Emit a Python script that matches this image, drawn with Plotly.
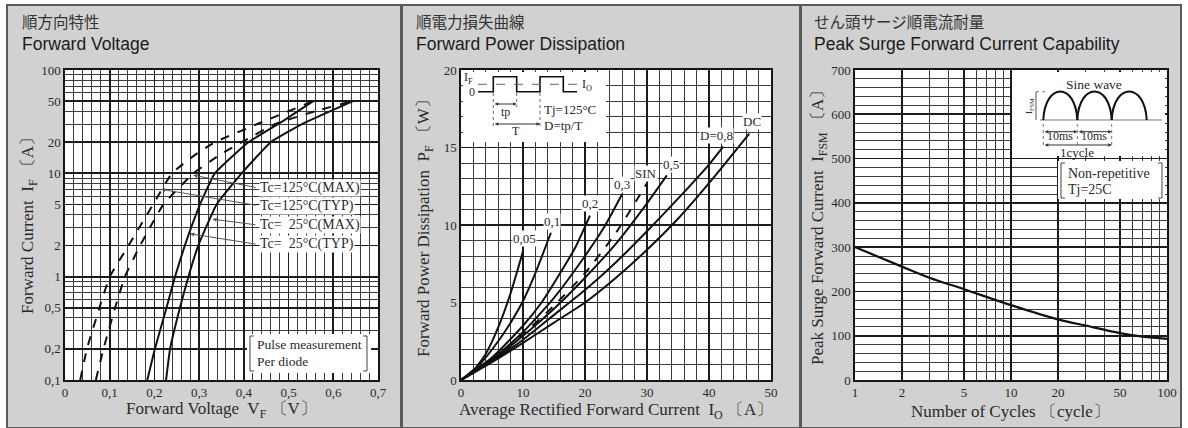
import math
import plotly.graph_objects as go

W, H = 1188, 428

# ---------------- data: panel 1 (Forward Voltage) ----------------
vf_125_typ = [0.034, 0.049, 0.077, 0.100, 0.142, 0.197, 0.239, 0.290, 0.335, 0.430, 0.555]
if_125_typ = [0.1, 0.2, 0.5, 1, 2, 5, 10, 15, 20, 30, 50]
vf_125_max = [0.069, 0.086, 0.112, 0.134, 0.168, 0.220, 0.287, 0.345, 0.395, 0.470, 0.560, 0.644]
if_125_max = [0.1, 0.2, 0.5, 1, 2, 5, 10, 15, 20, 30, 40, 50]
vf_25_typ = [0.184, 0.201, 0.227, 0.246, 0.268, 0.302, 0.335, 0.410, 0.487, 0.555]
if_25_typ = [0.1, 0.2, 0.5, 1, 2, 5, 10, 20, 32, 50]
vf_25_max = [0.226, 0.235, 0.257, 0.276, 0.298, 0.339, 0.395, 0.460, 0.530, 0.644]
if_25_max = [0.1, 0.2, 0.5, 1, 2, 5, 10, 20, 30, 50]
p1_xticks = [0, 0.1, 0.2, 0.3, 0.4, 0.5, 0.6, 0.7]
p1_xtext = ["0", "0,1", "0,2", "0,3", "0,4", "0,5", "0,6", "0,7"]
p1_yticks = [0.1, 0.2, 0.5, 1, 2, 5, 10, 20, 50, 100]
p1_ytext = ["0,1", "0,2", "0,5", "1", "2", "5", "10", "20", "50", "100"]
p1_labels = ["Tc=125°C(MAX)", "Tc=125°C(TYP)", "Tc=  25°C(MAX)", "Tc=  25°C(TYP)"]

# ---------------- data: panel 2 (Forward Power Dissipation) ----------------
io_005 = [0, 2, 4, 6, 8, 10]
pf_005 = [0, 0.6, 1.7, 3.4, 5.6, 8.3]
io_01 = [0, 3, 6, 8, 10, 12, 14.5]
pf_01 = [0, 1.0, 2.5, 3.7, 5.1, 6.9, 9.5]
io_02 = [0, 5, 10, 13, 16, 18.5, 20.8]
pf_02 = [0, 1.45, 3.5, 5.0, 6.9, 8.6, 10.6]
io_03 = [0, 5, 10, 15, 20, 23, 26]
pf_03 = [0, 1.35, 3.1, 5.3, 8.0, 9.8, 12.0]
io_sin = [0, 5, 10, 15, 20, 25, 30]
pf_sin = [0, 1.3, 2.95, 4.8, 6.9, 9.5, 12.7]
io_05 = [0, 5, 10, 15, 20, 25, 30, 33.2]
pf_05 = [0, 1.25, 2.85, 4.6, 6.6, 8.8, 11.4, 13.2]
io_08 = [0, 5, 10, 15, 20, 25, 30, 35, 40, 42.3]
pf_08 = [0, 1.2, 2.6, 4.2, 5.8, 7.6, 9.6, 11.7, 13.9, 15.05]
io_dc = [0, 5, 10, 15, 20, 25, 30, 35, 40, 46.5]
pf_dc = [0, 1.15, 2.4, 3.7, 5.0, 6.6, 8.4, 10.4, 12.7, 15.9]
p2_labels = ["0,05", "0,1", "0,2", "0,3", "SIN", "0,5", "D=0,8", "DC"]
p2_label_x = [10.3, 14.6, 20.8, 25.9, 29.9, 33.8, 41.2, 46.9]
p2_label_y = [9.1, 10.2, 11.4, 12.6, 13.3, 13.9, 15.8, 16.7]

# ---------------- data: panel 3 (Peak Surge Forward Current) ----------------
cycles = [1, 2, 3, 5, 10, 20, 30, 50, 70, 100]
ifsm = [300, 256, 231, 205, 169, 137, 123, 106, 98, 93]
p3_xticks = [1, 2, 5, 10, 20, 50, 100]

SERIF = "Liberation Serif, Times New Roman, serif"
SANS = "Liberation Sans, Arial, sans-serif"
JP = "Noto Sans CJK JP, sans-serif"
TXT = "#2a2a2a"
GMAJ = "#1c1c1c"
GMIN = "#3c3c3c"


def px(x):
    return x / W


def py(y):
    return 1 - y / H


fig = go.Figure()

LINE = dict(color="#111", width=2)
DASH = dict(color="#111", width=2, dash="dash")

for xv, yv, ln in [(vf_125_typ, if_125_typ, DASH), (vf_125_max, if_125_max, DASH),
                   (vf_25_typ, if_25_typ, LINE), (vf_25_max, if_25_max, LINE)]:
    fig.add_trace(go.Scatter(x=xv, y=yv, mode="lines", line=dict(**ln, shape="spline", smoothing=0.35),
                             xaxis="x", yaxis="y", showlegend=False, hoverinfo="skip"))

for xv, yv, ln in [(io_005, pf_005, LINE), (io_01, pf_01, LINE), (io_02, pf_02, LINE),
                   (io_03, pf_03, LINE), (io_sin, pf_sin, DASH), (io_05, pf_05, LINE),
                   (io_08, pf_08, LINE), (io_dc, pf_dc, LINE)]:
    fig.add_trace(go.Scatter(x=xv, y=yv, mode="lines", line=dict(**ln, shape="spline", smoothing=0.6),
                             xaxis="x2", yaxis="y2", showlegend=False, hoverinfo="skip"))

fig.add_trace(go.Scatter(x=cycles, y=ifsm, mode="lines", line=dict(color="#111", width=2.2, shape="spline"),
                         xaxis="x3", yaxis="y3", showlegend=False, hoverinfo="skip"))

ydom = [py(380), py(70)]


def ax_common():
    return dict(showline=True, linecolor="#151515", linewidth=1.6, mirror=True, ticks="",
                zeroline=False, showgrid=True, gridcolor=GMAJ, gridwidth=1.8, automargin=False,
                tickfont=dict(family=SERIF, size=13, color=TXT), fixedrange=True)


log_minor_p1 = [m * 10 ** e for e in (-1, 0, 1) for m in (3, 4, 6, 7, 8, 9)]
log_minor_p3 = [m * 10 ** e for e in (0, 1) for m in (3, 4, 6, 7, 8, 9)]

fig.update_layout(
    width=W, height=H, autosize=False,
    margin=dict(l=0, r=0, t=0, b=0, pad=0),
    paper_bgcolor="white", plot_bgcolor="white",
    xaxis=dict(**ax_common(), domain=[px(65), px(378)], range=[0, 0.7], anchor="y",
               tickvals=p1_xticks, ticktext=p1_xtext,
               minor=dict(dtick=0.02, tick0=0, showgrid=True, gridcolor=GMIN, gridwidth=1)),
    yaxis=dict(**ax_common(), domain=ydom, type="log", range=[-1, 2], anchor="x",
               tickvals=p1_yticks, ticktext=p1_ytext,
               minor=dict(tickvals=log_minor_p1, showgrid=True, gridcolor=GMIN, gridwidth=1)),
    xaxis2=dict(**ax_common(), domain=[px(461), px(771)], range=[0, 50], anchor="y2",
                tickvals=[0, 10, 20, 30, 40, 50],
                minor=dict(dtick=2, tick0=0, showgrid=True, gridcolor=GMIN, gridwidth=1)),
    yaxis2=dict(**ax_common(), domain=ydom, range=[0, 20], anchor="x2",
                tickvals=[0, 5, 10, 15, 20],
                minor=dict(dtick=1, tick0=0, showgrid=True, gridcolor=GMIN, gridwidth=1)),
    xaxis3=dict(**ax_common(), domain=[px(855), px(1167)], type="log", range=[0, 2], anchor="y3",
                tickvals=p3_xticks, ticktext=[str(v) for v in p3_xticks],
                minor=dict(tickvals=log_minor_p3, showgrid=True, gridcolor=GMIN, gridwidth=1)),
    yaxis3=dict(**ax_common(), domain=ydom, range=[0, 700], anchor="x3",
                tickvals=[0, 100, 200, 300, 400, 500, 600, 700],
                minor=dict(dtick=20, tick0=0, showgrid=True, gridcolor=GMIN, gridwidth=1)),
)

shapes = []
for x0, x1 in [(7, 401), (402, 800), (801, 1181)]:
    shapes.append(dict(type="rect", xref="paper", yref="paper", x0=px(x0), x1=px(x1), y0=py(428), y1=py(5),
                       fillcolor="#d1d1d1", line=dict(color="#5a5a5a", width=2), layer="below"))
for x0, x1 in [(65, 378), (461, 771), (855, 1167)]:
    shapes.append(dict(type="rect", xref="paper", yref="paper", x0=px(x0), x1=px(x1), y0=py(380), y1=py(70),
                       fillcolor="white", line=dict(width=0), layer="below"))


def rect_px(x0, y0, x1, y1):
    return dict(type="rect", xref="paper", yref="paper", x0=px(x0), x1=px(x1), y0=py(y1), y1=py(y0),
                fillcolor="white", line=dict(width=0), layer="above")


def path_px(cmds, color="#222", width=1.2, dash=None):
    s = ""
    for c in cmds:
        if isinstance(c, str):
            s += c + " "
        else:
            s += f"{px(c[0]):.5f},{py(c[1]):.5f} "
    ln = dict(color=color, width=width)
    if dash:
        ln["dash"] = dash
    return dict(type="path", xref="paper", yref="paper", path=s.strip(), line=ln, layer="above")


def bracket(x0, x1, y0, y1, arm=4):
    return [path_px(["M", (x0 + arm, y0), "L", (x0, y0), "L", (x0, y1), "L", (x0 + arm, y1)], color="#444", width=1),
            path_px(["M", (x1 - arm, y0), "L", (x1, y0), "L", (x1, y1), "L", (x1 - arm, y1)], color="#444", width=1)]


# panel 1: pulse box
shapes.append(rect_px(247, 334, 371, 373))
shapes += bracket(250, 367, 336, 371)

# panel 2: inset box
shapes.append(rect_px(463, 72, 606, 142))
shapes.append(path_px(["M", (478, 91.7), "L", (493.3, 91.7), "L", (493.3, 76.7), "L", (516.7, 76.7),
                       "L", (516.7, 91.7), "L", (540, 91.7), "L", (540, 76.7), "L", (563.3, 76.7),
                       "L", (563.3, 91.7), "L", (577, 91.7)], color="#111", width=1.6))
shapes.append(path_px(["M", (478, 84.3), "L", (577, 84.3)], color="#666", width=1, dash="dash"))
shapes.append(path_px(["M", (493.3, 93), "L", (493.3, 127)], color="#666", width=1, dash="dot"))
shapes.append(path_px(["M", (516.7, 93), "L", (516.7, 107)], color="#666", width=1, dash="dot"))
shapes.append(path_px(["M", (540, 93), "L", (540, 127)], color="#666", width=1, dash="dot"))

# panel 3: inset boxes
shapes.append(rect_px(1012, 72, 1165, 156))
shapes.append(rect_px(1058, 161, 1165, 199))
shapes += bracket(1061, 1162, 163, 198)
shapes.append(path_px(["M", (1040, 120), "L", (1162, 120)], color="#777", width=1))
for xa, xb in [(1043.3, 1077.3), (1077.3, 1111.7), (1111.7, 1146.7)]:
    w = xb - xa
    shapes.append(path_px(["M", (xa, 120), "C", (xa + 0.05 * w, 82), (xb - 0.05 * w, 82), (xb, 120)],
                          color="#111", width=2))
shapes.append(path_px(["M", (1036, 91.7), "L", (1036, 120)], color="#555", width=1))
shapes.append(path_px(["M", (1036, 91.7), "L", (1048, 91.7)], color="#777", width=1, dash="dot"))
for xv in (1043.3, 1077.3, 1111.7):
    shapes.append(path_px(["M", (xv, 124), "L", (xv, 147)], color="#777", width=1, dash="dot"))

fig.update_layout(shapes=shapes)

ann = []


def text_px(x, y, t, size=12, family=SERIF, xanchor="center", color=TXT, angle=0, bg=None):
    d = dict(xref="paper", yref="paper", x=px(x), y=py(y), text=t, showarrow=False,
             xanchor=xanchor, yanchor="middle", textangle=angle,
             font=dict(family=family, size=size, color=color))
    if bg:
        d.update(bgcolor=bg, borderpad=0)
    return d


def arrow_px(x0, x1, y, both=True):
    return dict(xref="paper", yref="paper", x=px(x1), y=py(y), ax=x0 - x1, ay=0, text="",
                showarrow=True, arrowhead=2, arrowsize=0.7, arrowwidth=1, arrowcolor="#333",
                arrowside="end+start" if both else "end", standoff=0, startstandoff=0)


for x0, jp, en in [(20, "順方向特性", "Forward Voltage"),
                   (414, "順電力損失曲線", "Forward Power Dissipation"),
                   (812, "せん頭サージ順電流耐量", "Peak Surge Forward Current Capability")]:
    ann.append(text_px(x0, 21, jp, size=15.5, family=JP, xanchor="left", color="#333"))
    ann.append(text_px(x0, 44, en, size=17.5, family=SANS, xanchor="left", color="#1a1a1a"))

ann.append(text_px(221, 410, "Forward Voltage  V<sub>F</sub> 〔V〕", size=17))
ann.append(text_px(29, 222, "Forward Current  I<sub>F</sub> 〔A〕", size=17, angle=-90))
ann.append(text_px(616, 411, "Average Rectified Forward Current  I<sub>O</sub> 〔A〕", size=17))
ann.append(text_px(425, 224, "Forward Power Dissipation  P<sub>F</sub> 〔W〕", size=17, angle=-90))
ann.append(text_px(1010, 411, "Number of Cycles 〔cycle〕", size=17))
ann.append(text_px(819, 224, "Peak Surge Forward Current  I<sub>FSM</sub> 〔A〕", size=17, angle=-90))

lab_y = [187.7, 205.5, 225, 244.3]
tips = [(0.287, 9.6), (0.215, 7.0), (0.33, 3.6), (0.28, 2.6)]
for t, yl, (tv, ti) in zip(p1_labels, lab_y, tips):
    ann.append(text_px(259, yl, t, size=14, xanchor="left", bg="white"))
    ann.append(dict(xref="x", yref="y", x=tv, y=math.log10(ti), axref="x", ayref="y",
                    ax=(257 - 65) / 313 * 0.7, ay=(380 - yl) / 103.33 - 1, text="", showarrow=True,
                    arrowhead=2, arrowsize=0.8, arrowwidth=1, arrowcolor="#555", standoff=0))
ann.append(text_px(255, 344, "Pulse measurement", size=13.5, xanchor="left"))
ann.append(text_px(255, 361, "Per diode", size=13.5, xanchor="left"))

for t, xl, yl in zip(p2_labels, p2_label_x, p2_label_y):
    ann.append(dict(xref="x2", yref="y2", x=xl, y=yl, text=t, showarrow=False, bgcolor="white", borderpad=0,
                    font=dict(family=SERIF, size=13, color=TXT)))

ann.append(text_px(468, 78, "I<sub>F</sub>", size=12))
ann.append(text_px(472, 92, "0", size=12))
ann.append(text_px(587, 85, "I<sub>O</sub>", size=12))
ann.append(arrow_px(493.3, 516.7, 104))
ann.append(text_px(505, 112, "tp", size=12))
ann.append(arrow_px(493.3, 540, 124))
ann.append(text_px(516, 131, "T", size=12))
ann.append(text_px(542, 110, "Tj=125°C", size=13, xanchor="left"))
ann.append(text_px(542, 125, "D=tp/T", size=13, xanchor="left"))

ann.append(text_px(1094, 84, "Sine wave", size=13.5))
ann.append(text_px(1030, 106, "I<sub>FSM</sub>", size=9, angle=-90))
ann.append(arrow_px(1043.3, 1077.3, 131.7))
ann.append(arrow_px(1077.3, 1111.7, 131.7))
ann.append(text_px(1060, 136, "10ms", size=12))
ann.append(text_px(1094, 136, "10ms", size=12))
ann.append(arrow_px(1043.3, 1111.7, 145))
ann.append(text_px(1077, 153, "1cycle", size=13))
ann.append(text_px(1066, 173, "Non-repetitive", size=14, xanchor="left"))
ann.append(text_px(1066, 189, "Tj=25C", size=14, xanchor="left"))

fig.update_layout(annotations=ann)

fig.write_html("out.html", config={"displayModeBar": False, "staticPlot": True},
               post_script="document.body.style.margin='0px';document.body.style.overflow='hidden';")
